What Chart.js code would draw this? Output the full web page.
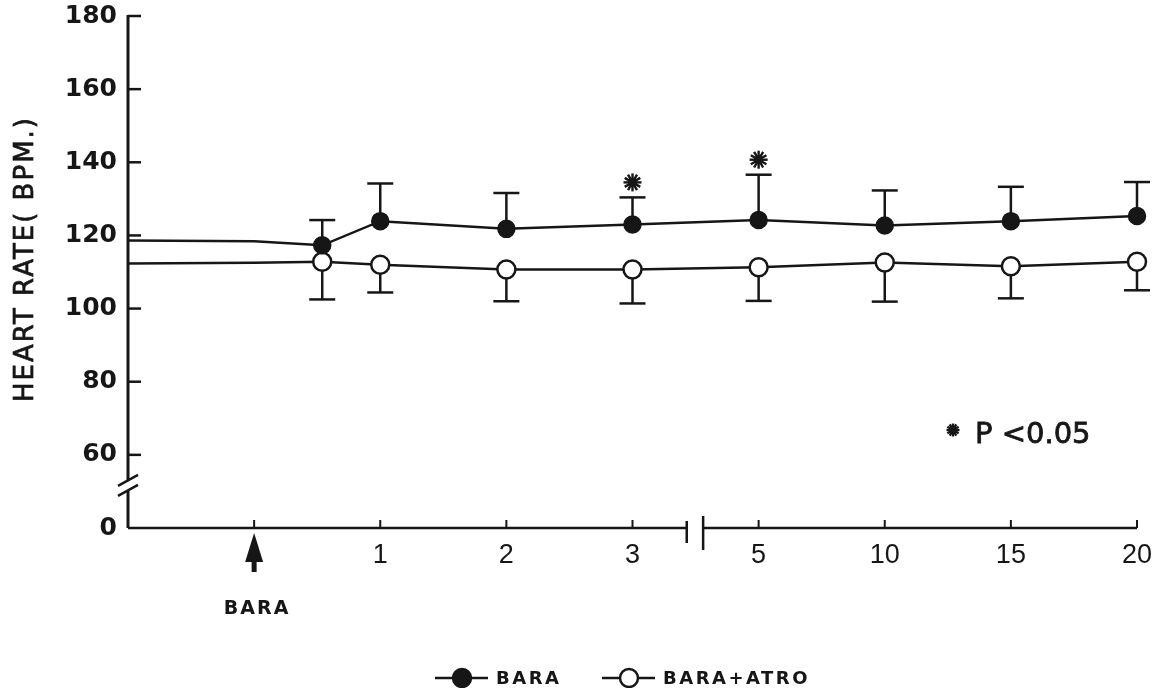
<!DOCTYPE html>
<html>
<head>
<meta charset="utf-8">
<script src="https://cdn.jsdelivr.net/npm/chart.js@4.4.1/dist/chart.umd.min.js"></script>
<style>
  html, body { margin: 0; padding: 0; background: #fff; }
  #wrap { width: 1167px; height: 688px; }
</style>
</head>
<body>
<div id="wrap"><canvas id="hr" width="1167" height="688"></canvas></div>
<script>
// time axis slots: 0 = start, 1 = BARA injection, then 1,2,3 | 5,10,15,20 min
const xPos = [0, 1, 1.54, 2, 3, 4, 5, 6, 7, 8];
const xTickLabels = ["", "", "1", "2", "3", "5", "10", "15", "20"];

// heart rate (bpm), mean and SD
const baraHR = [118.6, 118.4, 117.3, 123.9, 121.8, 123.0, 124.2, 122.7, 123.9, 125.3];
const baraSD = [null, null, 6.9, 10.3, 9.8, 7.4, 12.4, 9.6, 9.4, 9.3];
const atroHR = [112.3, 112.5, 112.8, 112.0, 110.7, 110.7, 111.3, 112.6, 111.6, 112.8];
const atroSD = [null, null, 10.3, 7.6, 8.7, 9.3, 9.2, 10.7, 8.8, 7.8];

// * P<0.05
const significant = [false, false, false, false, false, true, true, false, false, false];

// 40 is drawn as "0" (broken axis)
const yTicks = [40, 60, 80, 100, 120, 140, 160, 180];

const INK = "#161616";
const Y_BREAK = 51.5;          // where the y axis is cut
const X_BREAK = [4.43, 4.56];  // gap between 3 and 5 min

function line(ctx, x1, y1, x2, y2) {
    ctx.beginPath();
    ctx.moveTo(x1, y1);
    ctx.lineTo(x2, y2);
    ctx.stroke();
}

function star(ctx, x, y, r) {
    ctx.save();
    ctx.lineWidth = 2.4;
    for (let k = 0; k < 6; k++) {
        const a = k * Math.PI / 6;
        line(ctx, x - r * Math.cos(a), y - r * Math.sin(a), x + r * Math.cos(a), y + r * Math.sin(a));
    }
    ctx.beginPath();
    ctx.arc(x, y, r * 0.5, 0, Math.PI * 2);
    ctx.fill();
    ctx.restore();
}

const paperPlugin = {
    id: "paper",
    beforeDatasetsDraw(chart) {
        const ctx = chart.ctx;
        const ca = chart.chartArea;
        const xs = chart.scales.x, ys = chart.scales.y;
        const L = ca.left, B = ca.bottom;
        ctx.save();
        ctx.strokeStyle = INK;
        ctx.fillStyle = INK;

        // y axis with break
        ctx.lineWidth = 3;
        const yb = ys.getPixelForValue(Y_BREAK);
        line(ctx, L, ca.top - 1, L, yb - 5);
        line(ctx, L, yb + 5, L, B);
        ctx.lineWidth = 2.5;
        line(ctx, L - 10, yb, L + 10, yb - 11);
        line(ctx, L - 10, yb + 10, L + 10, yb - 1);

        // y ticks point inward
        ctx.lineWidth = 2.5;
        yTicks.forEach(v => {
            if (v === 40) return;
            const py = ys.getPixelForValue(v);
            line(ctx, L, py, L + 13, py);
        });

        // x axis with break
        ctx.lineWidth = 2.5;
        const xb1 = xs.getPixelForValue(X_BREAK[0]);
        const xb2 = xs.getPixelForValue(X_BREAK[1]);
        line(ctx, L, B, xb1, B);
        line(ctx, xb2, B, ca.right, B);
        line(ctx, xb1, B - 7, xb1, B + 15);
        line(ctx, xb2, B - 12, xb2, B + 22);
        ctx.lineWidth = 2;
        for (let i = 1; i < xTickLabels.length; i++) {
            const px = xs.getPixelForValue(i);
            line(ctx, px, B, px, B - 8);
        }

        // error bars (BARA up, BARA+ATRO down)
        ctx.lineWidth = 2.5;
        const cap = 13;
        chart.data.datasets.forEach(ds => {
            ds.data.forEach((p, i) => {
                const sd = ds.sd[i];
                if (sd == null) return;
                const px = xs.getPixelForValue(p.x);
                const y0 = ys.getPixelForValue(p.y);
                const y1 = ys.getPixelForValue(p.y + ds.errDir * sd);
                line(ctx, px, y0, px, y1);
                line(ctx, px - cap, y1, px + cap, y1);
            });
        });
        ctx.restore();
    },
    afterDatasetsDraw(chart) {
        const ctx = chart.ctx;
        const ca = chart.chartArea;
        const xs = chart.scales.x, ys = chart.scales.y;
        const B = ca.bottom;
        ctx.save();
        ctx.strokeStyle = INK;
        ctx.fillStyle = INK;

        // significance stars above BARA error bars
        significant.forEach((s, i) => {
            if (!s) return;
            const px = xs.getPixelForValue(xPos[i]);
            const top = ys.getPixelForValue(baraHR[i] + baraSD[i]);
            star(ctx, px, top - 15, 9);
        });

        // P value note
        star(ctx, 953, 430, 6.5);
        ctx.font = "29px 'DejaVu Sans'";
        ctx.textAlign = "left";
        ctx.textBaseline = "alphabetic";
        ctx.lineWidth = 0.8;
        ctx.fillText("P <0.05", 975, 443);
        ctx.strokeText("P <0.05", 975, 443);

        // BARA arrow below its tick
        const ax = xs.getPixelForValue(1);
        ctx.beginPath();
        ctx.moveTo(ax, B + 5);
        ctx.lineTo(ax + 9, B + 34);
        ctx.lineTo(ax - 9, B + 34);
        ctx.closePath();
        ctx.fill();
        ctx.fillRect(ax - 2.5, B + 30, 5, 14);
        ctx.font = "bold 19px 'DejaVu Sans'";
        ctx.letterSpacing = "2px";
        ctx.textAlign = "center";
        ctx.textBaseline = "middle";
        ctx.fillText("BARA", ax + 3, B + 81);

        // y axis title
        ctx.save();
        ctx.translate(26, 259);
        ctx.rotate(-Math.PI / 2);
        ctx.font = "26px 'DejaVu Sans'";
        ctx.letterSpacing = "2px";
        ctx.lineWidth = 0.7;
        ctx.fillText("HEART RATE( BPM.)", 0, 0);
        ctx.strokeText("HEART RATE( BPM.)", 0, 0);
        ctx.restore();

        // legend
        const ly = 678;
        const items = [{ x: 435, ds: chart.data.datasets[0] }, { x: 602, ds: chart.data.datasets[1] }];
        ctx.font = "bold 18px 'DejaVu Sans'";
        ctx.letterSpacing = "2.5px";
        ctx.textAlign = "left";
        items.forEach(it => {
            ctx.lineWidth = 2.5;
            line(ctx, it.x, ly, it.x + 53, ly);
            ctx.beginPath();
            ctx.arc(it.x + 27, ly, 9, 0, Math.PI * 2);
            ctx.fillStyle = it.ds.pointBackgroundColor;
            ctx.fill();
            ctx.stroke();
            ctx.fillStyle = INK;
            ctx.fillText(it.ds.label, it.x + 61, ly + 1);
        });
        ctx.restore();
    }
};

new Chart(document.getElementById("hr"), {
    type: "scatter",
    data: {
        datasets: [
            {
                label: "BARA",
                data: xPos.map((x, i) => ({ x: x, y: baraHR[i] })),
                sd: baraSD,
                errDir: 1,
                showLine: true,
                clip: false,
                borderColor: INK,
                borderWidth: 2.5,
                pointRadius: baraSD.map(s => s == null ? 0 : 8.5),
                pointBackgroundColor: INK,
                pointBorderColor: INK,
                pointBorderWidth: 1.5
            },
            {
                label: "BARA+ATRO",
                data: xPos.map((x, i) => ({ x: x, y: atroHR[i] })),
                sd: atroSD,
                errDir: -1,
                showLine: true,
                clip: false,
                borderColor: INK,
                borderWidth: 2.5,
                pointRadius: atroSD.map(s => s == null ? 0 : 9),
                pointBackgroundColor: "#ffffff",
                pointBorderColor: INK,
                pointBorderWidth: 2.5
            }
        ]
    },
    options: {
        responsive: false,
        animation: false,
        events: [],
        layout: { padding: { top: 16, right: 30, left: 0, bottom: 0 } },
        plugins: { legend: { display: false }, tooltip: { enabled: false } },
        scales: {
            x: {
                type: "linear",
                min: 0,
                max: 8,
                afterFit: s => { s.height = 160; s.paddingLeft = 0; s.paddingRight = 0; },
                afterBuildTicks: s => { s.ticks = xTickLabels.map((l, i) => ({ value: i })); },
                grid: { display: false, drawTicks: false },
                border: { display: false },
                ticks: {
                    callback: v => xTickLabels[v],
                    autoSkip: false,
                    maxRotation: 0,
                    padding: 11,
                    color: INK,
                    font: { family: "'Liberation Sans', Arial", size: 27 }
                }
            },
            y: {
                min: 40,
                max: 180,
                afterFit: s => { s.width = 128; s.paddingTop = 0; s.paddingBottom = 0; },
                afterBuildTicks: s => { s.ticks = yTicks.map(v => ({ value: v })); },
                grid: { display: false, drawTicks: false },
                border: { display: false },
                ticks: {
                    callback: v => v === 40 ? "0" : String(v),
                    padding: 11,
                    color: INK,
                    font: { family: "'DejaVu Sans'", size: 25, weight: "bold" }
                }
            }
        }
    },
    plugins: [paperPlugin]
});
</script>
</body>
</html>
